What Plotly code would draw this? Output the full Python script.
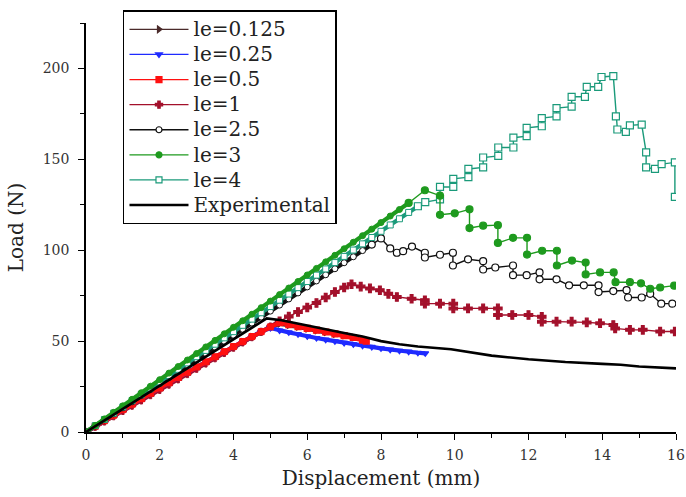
import plotly.graph_objects as go

# ---------------- data ----------------
# shared displacement grid for the linear loading branches (mm)
disp_load = [0, 0.25, 0.5, 0.75, 1.0, 1.25, 1.5, 1.75, 2.0, 2.25, 2.5, 2.75, 3.0, 3.25,
             3.5, 3.75, 4.0, 4.25, 4.5, 4.75, 5.0, 5.25, 5.5, 5.75, 6.0, 6.25, 6.5, 6.75,
             7.0, 7.25, 7.5, 7.75, 8.0, 8.25, 8.5, 8.75, 9.0]

# le = 0.125
le0125_load = [0, 3.0, 6.1, 9.1, 12.2, 15.2, 18.2, 21.2, 24.1, 27.0, 29.9, 32.8, 35.7,
               38.5, 41.3, 44.1, 46.9, 49.7, 52.4, 55.1, 57.7, 59.6]
le0125_x = [5.5, 5.75, 6.0, 6.25, 6.5, 6.75, 7.0, 7.25, 7.5]
le0125_y = [58.8, 57.8, 56.8, 55.8, 54.8, 53.9, 53.0, 52.0, 51.0]

# le = 0.25
le025_load = [0, 3.1, 6.2, 9.2, 12.3, 15.3, 18.3, 21.3, 24.2, 27.1, 30.0, 32.9, 35.8,
              38.6, 41.4, 44.2, 47.0, 49.8, 52.5, 55.2, 57.2]
le025_x = [5.25, 5.5, 5.75, 6.0, 6.25, 6.5, 6.75, 7.0, 7.25, 7.5, 7.75, 8.0, 8.25,
           8.5, 8.75, 9.0, 9.2]
le025_y = [55.8, 54.8, 53.8, 52.6, 51.7, 50.8, 49.9, 49.0, 48.2, 47.5, 46.8, 46.0,
           45.3, 44.7, 44.2, 43.6, 43.3]

# le = 0.5
le05_load = [0, 3.1, 6.2, 9.2, 12.3, 15.3, 18.3, 21.3, 24.2, 27.1, 30.0, 32.9, 35.8,
             38.6, 41.4, 44.2, 47.0, 49.8, 52.5, 55.2, 57.8, 60.2]
le05_x = [5.5, 5.75, 6.0, 6.25, 6.5, 6.75, 7.0, 7.25, 7.5, 7.6]
le05_y = [59.0, 58.0, 57.0, 56.0, 55.0, 54.0, 53.0, 52.0, 50.5, 50.0]

# le = 1
le1_load = [0, 2.9, 5.8, 8.7, 11.6, 14.5, 17.4, 20.3, 23.2, 26.1, 29.0, 31.9, 34.8,
            37.7, 40.6, 43.5, 46.4, 49.3, 52.2, 55.1, 58.0, 60.9]
le1_x = [5.5, 5.75, 6.0, 6.25, 6.5, 6.75, 7.0, 7.2, 7.45, 7.7, 7.97, 8.2, 8.43, 8.83,
         9.19, 9.19, 9.6, 9.96, 9.96, 10.36, 10.77, 11.17, 11.17, 11.56, 12.0, 12.36,
         12.36, 12.76, 13.17, 13.58, 13.94, 14.3, 14.35, 14.75, 15.1, 15.57, 15.97]
le1_y = [63.5, 66.0, 68.5, 71.0, 74.0, 77.0, 79.5, 81.3, 80.0, 79.0, 78.0, 76.0, 74.3,
         73.3, 72.5, 70.6, 70.6, 70.6, 68.0, 68.0, 68.0, 68.0, 64.4, 64.4, 64.4, 63.4,
         60.7, 60.7, 60.7, 60.3, 59.8, 58.9, 57.0, 56.2, 56.2, 55.3, 55.3]

# le = 2.5
le25_load = [0, 3.3, 6.7, 10.0, 13.3, 16.6, 20.0, 23.3, 26.6, 29.9, 33.3, 36.6, 39.9,
             43.2, 46.6, 49.9, 53.2, 56.5, 59.9, 63.2, 66.5, 69.8, 73.2, 76.5, 79.8,
             83.1, 86.5, 89.8, 93.1, 96.4, 99.8, 103.1]
le25_x = [8.0, 8.25, 8.43, 8.6, 8.84, 9.19, 9.19, 9.6, 9.95, 9.95, 10.36, 10.77, 10.77,
          11.1, 11.58, 11.58, 11.95, 12.3, 12.3, 12.76, 13.1, 13.5, 13.9, 13.9, 14.3,
          14.66, 14.7, 15.07, 15.3, 15.6, 15.9]
le25_y = [106.5, 101.0, 98.6, 99.5, 102.0, 98.6, 96.0, 97.5, 98.6, 91.6, 95.0, 94.0,
          89.4, 90.5, 91.6, 86.3, 86.3, 87.8, 84.0, 84.0, 80.7, 80.7, 80.7, 77.0, 77.5,
          78.0, 74.0, 74.0, 76.0, 70.6, 70.6]

# le = 3
le3_load = [0, 3.6, 7.2, 10.8, 14.4, 18.0, 21.6, 25.2, 28.8, 32.4, 36.0, 39.6, 43.2,
            46.8, 50.4, 54.0, 57.6, 61.2, 64.8, 68.4, 72.0, 75.6, 79.2, 82.8, 86.4,
            90.0, 93.6, 97.2, 100.8, 104.4, 108.0, 111.6, 115.2, 118.8, 122.4, 126.0]
le3_x = [9.19, 9.6, 9.6, 10.0, 10.4, 10.4, 10.77, 11.17, 11.17, 11.58, 11.96, 11.96,
         12.37, 12.77, 12.77, 13.18, 13.55, 13.55, 13.94, 14.31, 14.36, 14.75, 15.05,
         15.3, 15.57, 15.95]
le3_y = [133.0, 130.0, 119.5, 120.3, 122.5, 112.2, 113.5, 113.8, 104.0, 106.8, 106.8,
         97.6, 99.7, 99.7, 91.6, 94.3, 93.2, 86.7, 87.8, 87.8, 82.4, 82.4, 81.8, 78.8,
         79.5, 80.5]

# le = 4
le4_load = [0, 3.5, 6.9, 10.4, 13.8, 17.3, 20.7, 24.2, 27.6, 31.1, 34.5, 38.0, 41.4,
            44.9, 48.3, 51.8, 55.2, 58.7, 62.1, 65.6, 69.0, 72.5, 75.9, 79.4, 82.8,
            86.3, 89.7, 93.2, 96.6, 100.1, 103.5, 107.0, 110.4, 113.9, 117.3, 120.8,
            124.2]
le4_x = [9.2, 9.6, 9.6, 9.96, 9.96, 10.37, 10.37, 10.77, 10.77, 11.18, 11.18, 11.59,
         11.59, 11.95, 11.95, 12.36, 12.36, 12.76, 12.76, 13.17, 13.17, 13.53, 13.58,
         13.89, 13.98, 14.3, 14.37, 14.41, 14.64, 14.75, 15.07, 15.19, 15.19, 15.43,
         15.61, 15.97, 15.97]
le4_y = [126.5, 128.0, 134.8, 134.8, 139.3, 140.2, 144.7, 145.6, 151.0, 151.9, 156.5,
         156.5, 161.9, 162.8, 167.3, 168.2, 172.7, 173.6, 178.2, 179.0, 184.4, 184.4,
         189.9, 189.9, 195.3, 195.8, 173.6, 166.4, 165.1, 168.7, 169.1, 153.8, 145.6,
         144.7, 147.4, 148.3, 129.4]

# Experimental
exp_x = [0, 4.9, 5.3, 6.0, 6.5, 7.0, 7.5, 8.0, 8.5, 9.0, 9.9, 10.5, 11.0, 12.0, 13.0,
         14.0, 14.5, 15.0, 16.0]
exp_y = [0, 62.5, 61.5, 58.5, 56.5, 54.5, 52.5, 50.0, 48.3, 47.0, 45.5, 43.5, 42.0,
         40.0, 38.5, 37.5, 37.0, 36.0, 35.0]

x_ticks = [0, 2, 4, 6, 8, 10, 12, 14, 16]
y_ticks = [0, 50, 100, 150, 200]

# ---------------- figure ----------------
FONT = "DejaVu Serif"

# name, loading y, post x, post y, colour, symbol, marker fill, dense softening?
series = [
    ("le=0.125", le0125_load, le0125_x, le0125_y, "#4a2a2a", "triangle-right", "#4a2a2a", True),
    ("le=0.25", le025_load, le025_x, le025_y, "#1f2bff", "triangle-down", "#1f2bff", True),
    ("le=0.5", le05_load, le05_x, le05_y, "#ff1010", "square", "#ff1010", True),
    ("le=1", le1_load, le1_x, le1_y, "#a3102b", "cross", "#a3102b", False),
    ("le=2.5", le25_load, le25_x, le25_y, "#111111", "circle", "white", False),
    ("le=3", le3_load, le3_x, le3_y, "#1e9a1e", "circle", "#1e9a1e", False),
    ("le=4", le4_load, le4_x, le4_y, "#1a9a7a", "square", "white", False),
]
draw_order = [0, 3, 1, 2, 4, 6, 5]

fig = go.Figure()
for i in draw_order:
    name, load, px, py, col, sym, fill, dense = series[i]
    lx = disp_load[:len(load)]
    # dense loading branch: thick band of small symbols
    fig.add_trace(go.Scatter(
        x=lx, y=load, mode="lines+markers", showlegend=False,
        legendgroup=name, hoverinfo="skip",
        line=dict(color=col, width=4.2),
        marker=dict(symbol=sym, size=6, color=fill, line=dict(color=col, width=1)),
    ))
    # softening branch
    fig.add_trace(go.Scatter(
        x=[lx[-1]] + px, y=[load[-1]] + py, mode="lines+markers", showlegend=False,
        legendgroup=name,
        line=dict(color=col, width=4.2 if dense else 1.4),
        marker=dict(symbol=sym, size=6 if dense else 7, color=fill,
                    line=dict(color=col, width=1.2)),
    ))

# legend keys (thin line + symbol), in the reference's order
for i, (name, load, px, py, col, sym, fill, dense) in enumerate(series):
    fig.add_trace(go.Scatter(
        x=[None], y=[None], mode="lines+markers",
        name='<span style="font-size:20px">%s</span>' % name,
        legendgroup=name, legendrank=i + 1,
        line=dict(color=col, width=1.3),
        marker=dict(symbol=sym, size=6, color=fill, line=dict(color=col, width=1.2)),
    ))

fig.add_trace(go.Scatter(
    x=exp_x, y=exp_y, mode="lines",
    name='<span style="font-size:20px">Experimental</span>',
    line=dict(color="black", width=2.6),
    legendrank=8, legendgroup="Experimental",
))

axis_common = dict(
    showline=True, linecolor="black", linewidth=1.5, mirror=False,
    showgrid=False, zeroline=False, ticks="outside", ticklen=6, tickwidth=1.3,
    tickcolor="black", tickfont=dict(family=FONT, size=14, color="#333333"),
    automargin=False,
)

fig.update_xaxes(
    range=[0, 16], tickvals=x_ticks, ticktext=[str(v) for v in x_ticks],
    title=dict(text="Displacement (mm)", font=dict(family=FONT, size=20, color="#222222"),
               standoff=9),
    minor=dict(dtick=1, ticks="outside", ticklen=4, tickcolor="black", tickwidth=1.2),
    ticklabelstandoff=3,
    **axis_common,
)
fig.update_yaxes(
    range=[0, 225], tickvals=y_ticks, ticktext=[str(v) for v in y_ticks],
    title=dict(text="Load (N)", font=dict(family=FONT, size=20, color="#222222"),
               standoff=14),
    minor=dict(dtick=25, ticks="outside", ticklen=4, tickcolor="black", tickwidth=1.2),
    ticklabelstandoff=6,
    **axis_common,
)

fig.update_layout(
    width=686, height=497,
    margin=dict(l=86, r=10, t=18, b=65),
    paper_bgcolor="white", plot_bgcolor="white",
    font=dict(family=FONT, color="#222222"),
    legend=dict(
        x=0.0627, y=1.031, xanchor="left", yanchor="top",
        bgcolor="white", bordercolor="black", borderwidth=1.5,
        font=dict(family=FONT, size=17, color="#222222"),
        itemwidth=59, tracegroupgap=0,
    ),
    showlegend=True,
)

fig.write_html("out.html")
